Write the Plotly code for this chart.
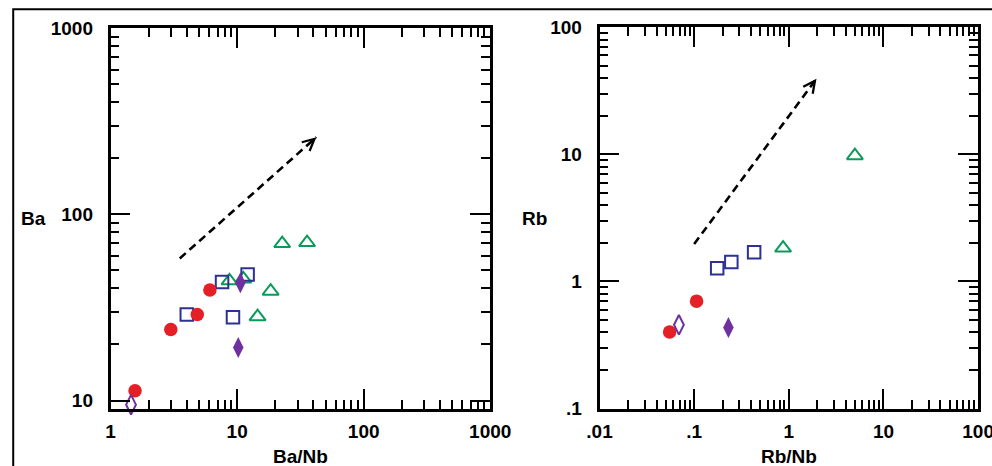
import math
import plotly.graph_objects as go

# ---------------- data ----------------
# Left panel: Ba/Nb vs Ba
ba_circle_x = [1.56, 2.99, 4.84, 6.09]
ba_circle_y = [11.3, 24.1, 29.0, 39.3]
ba_square_x = [4.0, 7.6, 12.1, 9.27]
ba_square_y = [29.0, 43.4, 47.5, 28.0]
ba_tri_x = [8.7, 11.2, 18.4, 14.5, 22.7, 35.7]
ba_tri_y = [44.0, 45.0, 38.7, 28.2, 69.7, 70.6]
ba_dfill_x = [10.6, 10.2]
ba_dfill_y = [43.0, 19.3]
ba_dopen_x = [1.45]
ba_dopen_y = [9.5]
ba_arrow_x = [3.52, 42.3]
ba_arrow_y = [58.0, 260.0]

# Right panel: Rb/Nb vs Rb
rb_circle_x = [0.055, 0.106]
rb_circle_y = [0.40, 0.70]
rb_square_x = [0.175, 0.247, 0.43]
rb_square_y = [1.27, 1.42, 1.70]
rb_tri_x = [0.87, 4.99]
rb_tri_y = [1.83, 9.77]
rb_dfill_x = [0.23]
rb_dfill_y = [0.434]
rb_dopen_x = [0.069]
rb_dopen_y = [0.456]
rb_arrow_x = [0.1, 1.96]
rb_arrow_y = [1.97, 39.4]

left_xticks = [1, 10, 100, 1000]
left_xtext = ["1", "10", "100", "1000"]
left_yticks = [10, 100, 1000]
left_ytext = ["10", "100", "1000"]
right_xticks = [0.01, 0.1, 1, 10, 100]
right_xtext = [".01", ".1", "1", "10", "100"]
right_yticks = [0.1, 1, 10, 100]
right_ytext = [".1", "1", "10", "100"]

RED = "#e41f26"
BLUE = "#2e3192"
GREEN = "#0b9a5a"
PURPLE = "#7030a0"
FONT = dict(family="Liberation Sans, Arial, sans-serif", size=19, color="black", weight="bold")

fig = go.Figure()


def add_points(xs, ys, xa, ya, symbol, color, size, lw):
    marker = dict(symbol=symbol, size=size, color=color, line=dict(color=color, width=lw))
    fig.add_trace(go.Scatter(x=xs, y=ys, xaxis=xa, yaxis=ya, mode="markers",
                             marker=marker, cliponaxis=False, showlegend=False))


def add_arrow(xs, ys, xa, ya):
    fig.add_trace(go.Scatter(x=xs, y=ys, xaxis=xa, yaxis=ya, mode="lines",
                             line=dict(color="black", width=2.6, dash="8px,5px"),
                             showlegend=False))
    lx0, ly0 = math.log10(xs[0]), math.log10(ys[0])
    lx1, ly1 = math.log10(xs[1]), math.log10(ys[1])
    t = 0.96
    fig.add_annotation(x=lx1, y=ly1, ax=lx0 + t * (lx1 - lx0), ay=ly0 + t * (ly1 - ly0),
                       xref=xa, yref=ya, axref=xa, ayref=ya,
                       showarrow=True, arrowhead=5, arrowsize=1.1, arrowwidth=2.1,
                       arrowcolor="black", text="")


# left panel
add_arrow(ba_arrow_x, ba_arrow_y, "x", "y")
add_points(ba_tri_x, ba_tri_y, "x", "y", "triangle-up-open", GREEN, 14, 2)
add_points(ba_square_x, ba_square_y, "x", "y", "square-open", BLUE, 12.5, 2)
add_points(ba_circle_x, ba_circle_y, "x", "y", "circle", RED, 13.5, 0)
add_points(ba_dfill_x, ba_dfill_y, "x", "y", "diamond-tall", PURPLE, 15, 0)
add_points(ba_dopen_x, ba_dopen_y, "x", "y", "diamond-tall-open", PURPLE, 14, 2)

# right panel
add_arrow(rb_arrow_x, rb_arrow_y, "x2", "y2")
add_points(rb_tri_x, rb_tri_y, "x2", "y2", "triangle-up-open", GREEN, 14, 2)
add_points(rb_square_x, rb_square_y, "x2", "y2", "square-open", BLUE, 12.5, 2)
add_points(rb_circle_x, rb_circle_y, "x2", "y2", "circle", RED, 13.5, 0)
add_points(rb_dfill_x, rb_dfill_y, "x2", "y2", "diamond-tall", PURPLE, 15, 0)
add_points(rb_dopen_x, rb_dopen_y, "x2", "y2", "diamond-tall-open", PURPLE, 14, 2)


def minor_vals(lo, hi):
    vals = []
    for k in range(lo, hi):
        for d in range(2, 10):
            vals.append(d * 10 ** k)
    return vals


def axis(domain, rng, tickvals, ticktext, minors, anchor, standoff):
    return dict(type="log", domain=domain, range=rng, anchor=anchor,
                tickmode="array", tickvals=tickvals, ticktext=ticktext,
                ticks="inside", ticklen=20, tickwidth=2, tickcolor="black",
                minor=dict(tickmode="array", tickvals=minors, ticks="inside",
                           ticklen=9, tickwidth=2, tickcolor="black", showgrid=False),
                showline=True, linewidth=2.6, linecolor="black", mirror="allticks",
                showgrid=False, zeroline=False, tickfont=FONT,
                ticklabelstandoff=standoff, fixedrange=True)


# layout geometry: reference pixel positions mapped onto the rendered page
OX, OY = 8, 8
SX, SY = 0.9725, 0.958
W, H = 1012, 478


def px(p):
    return (p / SX - OX) / W


def py(p):
    return 1 - (p / SY - OY) / H


fig.update_layout(
    width=W, height=H, margin=dict(l=0, r=0, t=0, b=0),
    paper_bgcolor="white", plot_bgcolor="white", showlegend=False,
    xaxis=axis([px(106), px(488)], [0, 3], left_xticks, left_xtext, minor_vals(0, 3), "y", 4),
    yaxis=axis([py(407), py(26)], [0.957, 3], left_yticks, left_ytext, minor_vals(0, 3), "x", 11),
    xaxis2=axis([px(598), px(979)], [-2, 2], right_xticks, right_xtext, minor_vals(-2, 2), "y2", 4),
    yaxis2=axis([py(407), py(25)], [-1, 2], right_yticks, right_ytext, minor_vals(-1, 2), "x2", 11),
)

# axis titles (horizontal)
for txt, tx, ty in [("Ba/Nb", 297, 455), ("Rb/Nb", 789, 455), ("Ba", 28, 217), ("Rb", 533, 217)]:
    fig.add_annotation(x=px(tx), y=py(ty), xref="paper", yref="paper", text=txt,
                       showarrow=False, font=FONT, xanchor="center", yanchor="middle")

# outer frame
fig.add_shape(type="rect", xref="paper", yref="paper", x0=px(8), x1=1.1, y0=-0.1, y1=py(7),
              line=dict(color="black", width=2))

fig.write_html("out.html")
